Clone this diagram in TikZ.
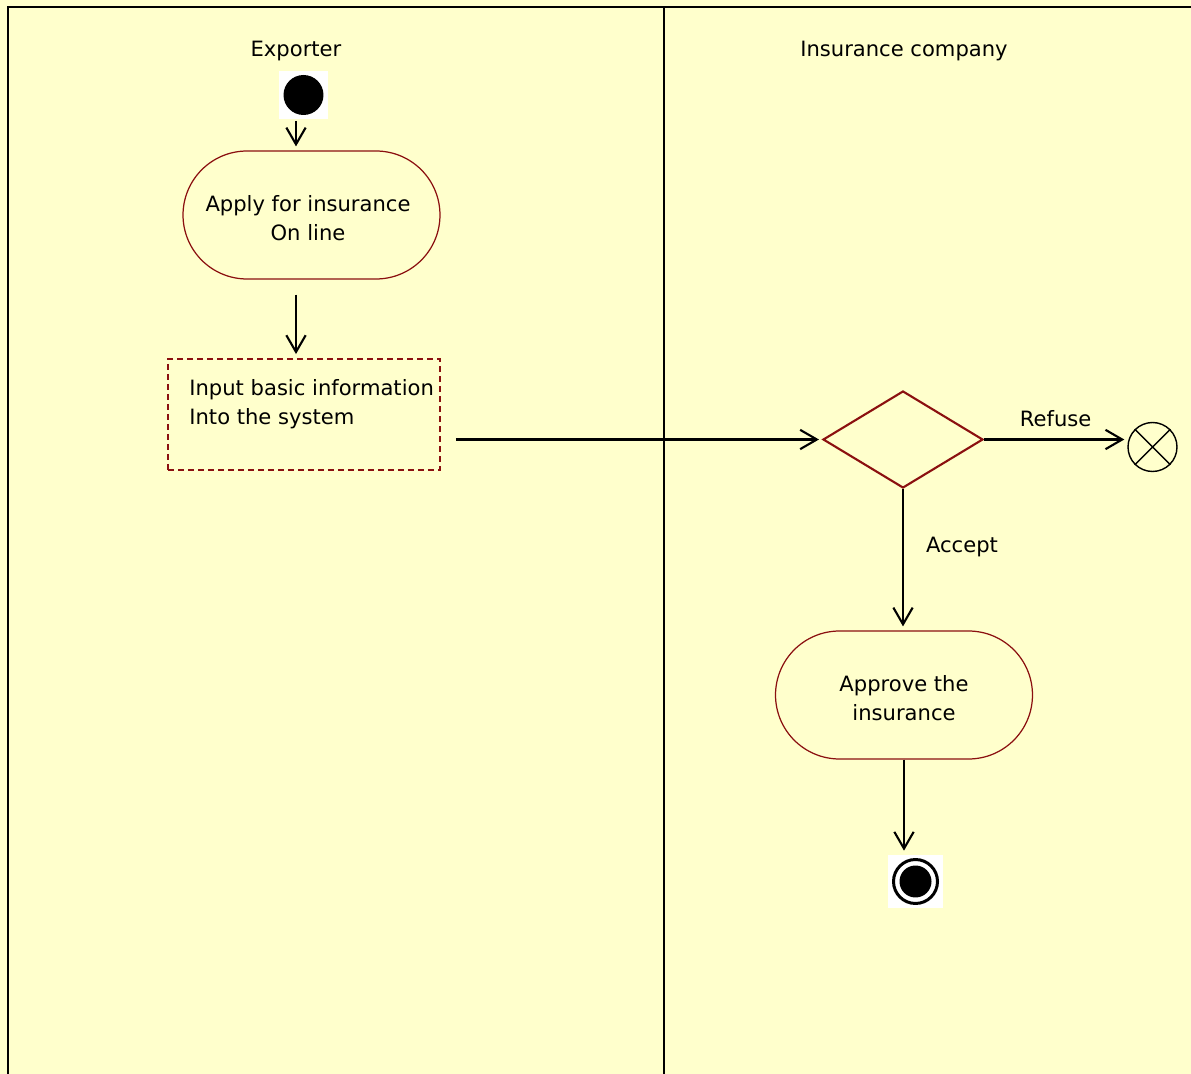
\documentclass[tikz,border=0pt]{standalone}
\usepackage{fontspec}
\setmainfont{DejaVu Sans}
\usetikzlibrary{arrows.meta,shapes.geometric,positioning}
\definecolor{laneyellow}{HTML}{FFFFCC}
\definecolor{actred}{HTML}{8B1010}
\begin{document}
\begin{tikzpicture}[x=0.02cm,y=-0.02cm,
    font=\fontsize{12}{16.5}\selectfont,
    flow/.style={line width=1.2pt,-{Straight Barb[length=9.5pt,width=11pt]}},
    activity/.style={draw=actred,line width=0.7pt,rounded corners=1.28cm,
        minimum width=5.14cm,minimum height=2.56cm,align=center,inner sep=0pt},
    dashbox/.style={draw=actred,line width=1.1pt,dash pattern=on 0.12cm off 0.08cm,
        minimum width=5.44cm,minimum height=2.22cm,inner sep=0pt},
    decision/.style={diamond,draw=actred,line width=1.2pt,minimum width=3.2cm,
        minimum height=1.94cm,inner sep=0pt},
    iconbg/.style={fill=white,inner sep=0pt}
]

    % Background and swimlanes
    \useasboundingbox (0,0) rectangle (1191,1074);
    \fill[laneyellow] (0,0) rectangle (1191,1074);
    \draw[line width=1.3pt] (1191,7) -- (8,7) -- (8,1074);
    \draw[line width=1.3pt] (664,7) -- (664,1074);

    % Lane titles
    \node (exporter) at (296,51) {Exporter};
    \node (insurer) at (904,51) {Insurance company};

    % Initial node
    \node[iconbg,minimum size=0.98cm] (start) at (303.5,95) {};
    \node[circle,fill=black,minimum size=0.8cm,inner sep=0pt] (startdot) at (start) {};

    % Activities of the exporter
    \node[activity] (apply) at (311.5,215) {};
    \node[align=center,inner sep=0pt] (applytext) at (308,218) {Apply for insurance\\On line};
    \node[dashbox] (input) at (304,414.5) {};
    \node[anchor=north west,inner sep=0pt,align=left] (inputtext)
        at ([xshift=0.44cm,yshift=-0.42cm]input.north west)
        {Input basic information\\Into the system};

    % Decision of the insurance company
    \node[decision] (check) at (903,439.5) {};
    \node[circle,draw,line width=0.8pt,minimum size=0.98cm,inner sep=0pt] (refused) at (1152.5,447) {};
    \draw[line width=0.8pt] (refused.45) -- (refused.225) (refused.135) -- (refused.315);

    \node[activity] (approve) at (904,695) {};
    \node[align=center,inner sep=0pt] (approvetext) at (904,698) {Approve the\\insurance};

    % Final node
    \node[iconbg,minimum width=1.1cm,minimum height=1.06cm] (end) at (915.5,881.5) {};
    \node[circle,draw,line width=1.7pt,minimum size=0.88cm,inner sep=0pt] (endring) at (end) {};
    \node[circle,fill=black,minimum size=0.64cm,inner sep=0pt] (enddot) at (end) {};

    % Control flows
    \draw[flow,shorten <=0.02cm,shorten >=0.08cm] ([xshift=-0.15cm]start.south)
        -- ([xshift=-0.15cm]start.south |- apply.north);
    \draw[flow,shorten <=0.3cm,shorten >=0.08cm] ([xshift=-0.31cm]apply.south)
        -- ([xshift=-0.31cm]apply.south |- input.north);
    \draw[flow,shorten <=0.3cm,shorten >=0.06cm] (input.east |- check.west) -- (check.west);
    \draw[flow,shorten >=0.06cm] (check.east)
        -- node[midway,yshift=0.42cm] (refuse) {Refuse} (check.east -| refused.west);
    \draw[flow,shorten >=0.08cm] (check.south)
        -- node[pos=0.4,anchor=west,inner sep=0pt,xshift=0.44cm,yshift=-0.03cm] (accept) {Accept}
        (check.south |- approve.north);
    \draw[flow,shorten >=0.08cm] (approve.south) -- (approve.south |- end.north);

\end{tikzpicture}
\end{document}
